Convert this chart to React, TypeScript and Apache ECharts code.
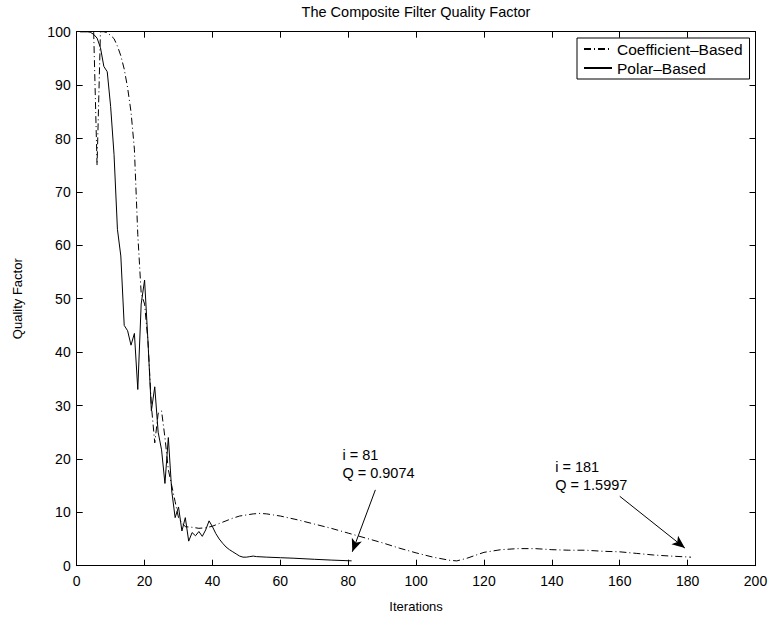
import React, { useEffect, useRef } from "react";
import * as echarts from "echarts";

const TITLE = "The Composite Filter Quality Factor";
const X_NAME = "Iterations";
const Y_NAME = "Quality Factor";
const COEF_NAME = "Coefficient–Based";
const POLAR_NAME = "Polar–Based";

// [iteration, quality factor]
const coefficientData: [number, number][] = [
  [1, 100], [2, 100], [3, 100], [4, 100], [5, 100], [6, 75], [7, 100], [8, 100],
  [9, 99.8], [10, 99.3], [11, 98.7], [12, 97.3], [13, 95.5], [14, 93], [15, 89.5],
  [16, 85], [17, 78], [18, 62], [19, 51], [20, 49], [21, 42], [22, 30], [23, 23],
  [24, 28.5], [25, 29], [26, 24], [27, 18], [28, 15], [29, 12], [30, 9], [31, 8],
  [32, 7.3], [34, 7.2], [36, 7], [38, 7.1], [40, 7.4], [42, 7.9], [44, 8.4],
  [46, 8.9], [48, 9.3], [50, 9.5], [52, 9.7], [54, 9.8], [56, 9.7], [58, 9.5],
  [60, 9.3], [65, 8.6], [70, 7.8], [75, 7.0], [80, 6.1], [85, 5.2], [90, 4.3],
  [95, 3.3], [100, 2.4], [105, 1.6], [110, 1.0], [112, 0.9], [115, 1.4],
  [120, 2.5], [125, 3.0], [130, 3.2], [135, 3.2], [140, 3.0], [145, 2.9],
  [150, 2.9], [155, 2.7], [160, 2.6], [165, 2.3], [170, 2.0], [175, 1.8],
  [181, 1.5997],
];

const polarData: [number, number][] = [
  [1, 100], [2, 100], [3, 100], [4, 99.9], [5, 99.5], [6, 98.8], [7, 97],
  [8, 93.5], [9, 92.5], [10, 86], [11, 77], [12, 63], [13, 58], [14, 45],
  [15, 44], [16, 41.3], [17, 43.5], [18, 33], [19, 49], [20, 53.5], [21, 42],
  [22, 29], [23, 33.5], [24, 25], [25, 21.7], [26, 15.4], [27, 24], [28, 14],
  [29, 9], [30, 11], [31, 6.5], [32, 9], [33, 4.6], [34, 6.2], [35, 5.6],
  [36, 6.4], [37, 5.5], [38, 6.7], [39, 8.4], [40, 7.3], [41, 6], [42, 5],
  [43, 4.2], [44, 3.5], [45, 3], [46, 2.6], [47, 2.2], [48, 1.8], [49, 1.6],
  [50, 1.6], [51, 1.7], [52, 1.8], [53, 1.7], [56, 1.6], [60, 1.5], [64, 1.4],
  [70, 1.2], [75, 1.05], [81, 0.9074],
];

const annotation1Text = "i = 81\nQ = 0.9074";
const annotation1Pos: [number, number] = [78.3, 22.4];
const arrow1: [[number, number], [number, number]] = [[88, 14.2], [81.2, 2.6]];

const annotation2Text = "i = 181\nQ = 1.5997";
const annotation2Pos: [number, number] = [141, 20.2];
const arrow2: [[number, number], [number, number]] = [[160, 13], [179.2, 3.3]];

const FONT = "Liberation Sans, Arial, Helvetica, sans-serif";

export default function App() {
  const ref = useRef<HTMLDivElement>(null);
  useEffect(() => {
    if (!ref.current) return;
    const chart = echarts.init(ref.current, null, { renderer: "svg" });
    const axisCommon = {
      type: "value" as const,
      axisLine: { show: true, onZero: false, lineStyle: { color: "#000", width: 1 } },
      axisTick: { show: true, inside: true, length: 6, lineStyle: { color: "#000" } },
      splitLine: { show: false },
    };
    chart.setOption({
      animation: false,
      backgroundColor: "#fff",
      textStyle: { fontFamily: FONT, color: "#000" },
      title: {
        text: TITLE,
        left: 416,
        top: 4,
        padding: 0,
        textAlign: "center",
        textStyle: { fontFamily: FONT, fontSize: 14.5, fontWeight: "normal", color: "#000" },
      },
      grid: { left: 76.7, right: 15.5, top: 31.7, bottom: 56.3, containLabel: false },
      legend: {
        left: 577,
        top: 38,
        orient: "vertical",
        borderColor: "#000",
        borderWidth: 1,
        padding: [3, 7, 3, 6],
        itemGap: 3,
        itemWidth: 28,
        itemHeight: 14,
        backgroundColor: "#fff",
        itemStyle: { opacity: 0 },
        textStyle: { fontFamily: FONT, fontSize: 15.5, color: "#000" },
        data: [COEF_NAME, POLAR_NAME],
      },
      xAxis: [
        {
          ...axisCommon,
          min: 0,
          max: 200,
          interval: 20,
          name: X_NAME,
          nameLocation: "middle",
          nameGap: 34,
          nameTextStyle: { fontFamily: FONT, fontSize: 13, color: "#000" },
          axisLabel: { fontFamily: FONT, fontSize: 14, color: "#000", margin: 8 },
        },
        {
          ...axisCommon,
          position: "top",
          min: 0,
          max: 200,
          interval: 20,
          axisLabel: { show: false },
        },
      ],
      yAxis: [
        {
          ...axisCommon,
          min: 0,
          max: 100,
          interval: 10,
          name: Y_NAME,
          nameLocation: "middle",
          nameGap: 53,
          nameTextStyle: { fontFamily: FONT, fontSize: 13, color: "#000" },
          axisLabel: { fontFamily: FONT, fontSize: 14, color: "#000", margin: 6 },
        },
        {
          ...axisCommon,
          position: "right",
          min: 0,
          max: 100,
          interval: 10,
          axisLabel: { show: false },
        },
      ],
      series: [
        {
          name: COEF_NAME,
          type: "line",
          data: coefficientData,
          symbol: "none",
          showSymbol: false,
          color: "#000",
          lineStyle: { color: "#000", width: 1, type: [7, 3, 1, 3] },
          markPoint: {
            symbol: "circle",
            symbolSize: 0.1,
            silent: true,
            data: [
              {
                coord: annotation2Pos,
                label: {
                  show: true,
                  formatter: annotation2Text,
                  position: [0, 0],
                  align: "left",
                  verticalAlign: "top",
                  fontFamily: FONT,
                  fontSize: 14.5,
                  lineHeight: 18,
                  color: "#000",
                },
              },
            ],
          },
          markLine: {
            silent: true,
            symbol: ["none", "arrow"],
            symbolSize: [8, 13],
            label: { show: false },
            lineStyle: { color: "#000", width: 1, type: "solid" },
            data: [[{ coord: arrow2[0] }, { coord: arrow2[1] }]],
          },
        },
        {
          name: POLAR_NAME,
          type: "line",
          data: polarData,
          symbol: "none",
          showSymbol: false,
          color: "#000",
          lineStyle: { color: "#000", width: 1, type: "solid" },
          markPoint: {
            symbol: "circle",
            symbolSize: 0.1,
            silent: true,
            data: [
              {
                coord: annotation1Pos,
                label: {
                  show: true,
                  formatter: annotation1Text,
                  position: [0, 0],
                  align: "left",
                  verticalAlign: "top",
                  fontFamily: FONT,
                  fontSize: 14.5,
                  lineHeight: 18,
                  color: "#000",
                },
              },
            ],
          },
          markLine: {
            silent: true,
            symbol: ["none", "arrow"],
            symbolSize: [8, 13],
            label: { show: false },
            lineStyle: { color: "#000", width: 1, type: "solid" },
            data: [[{ coord: arrow1[0] }, { coord: arrow1[1] }]],
          },
        },
      ],
    });
    return () => chart.dispose();
  }, []);
  return (
    <div
      ref={ref}
      style={{ position: "absolute", left: 0, top: 0, width: 771, height: 622, background: "#fff" }}
    />
  );
}
